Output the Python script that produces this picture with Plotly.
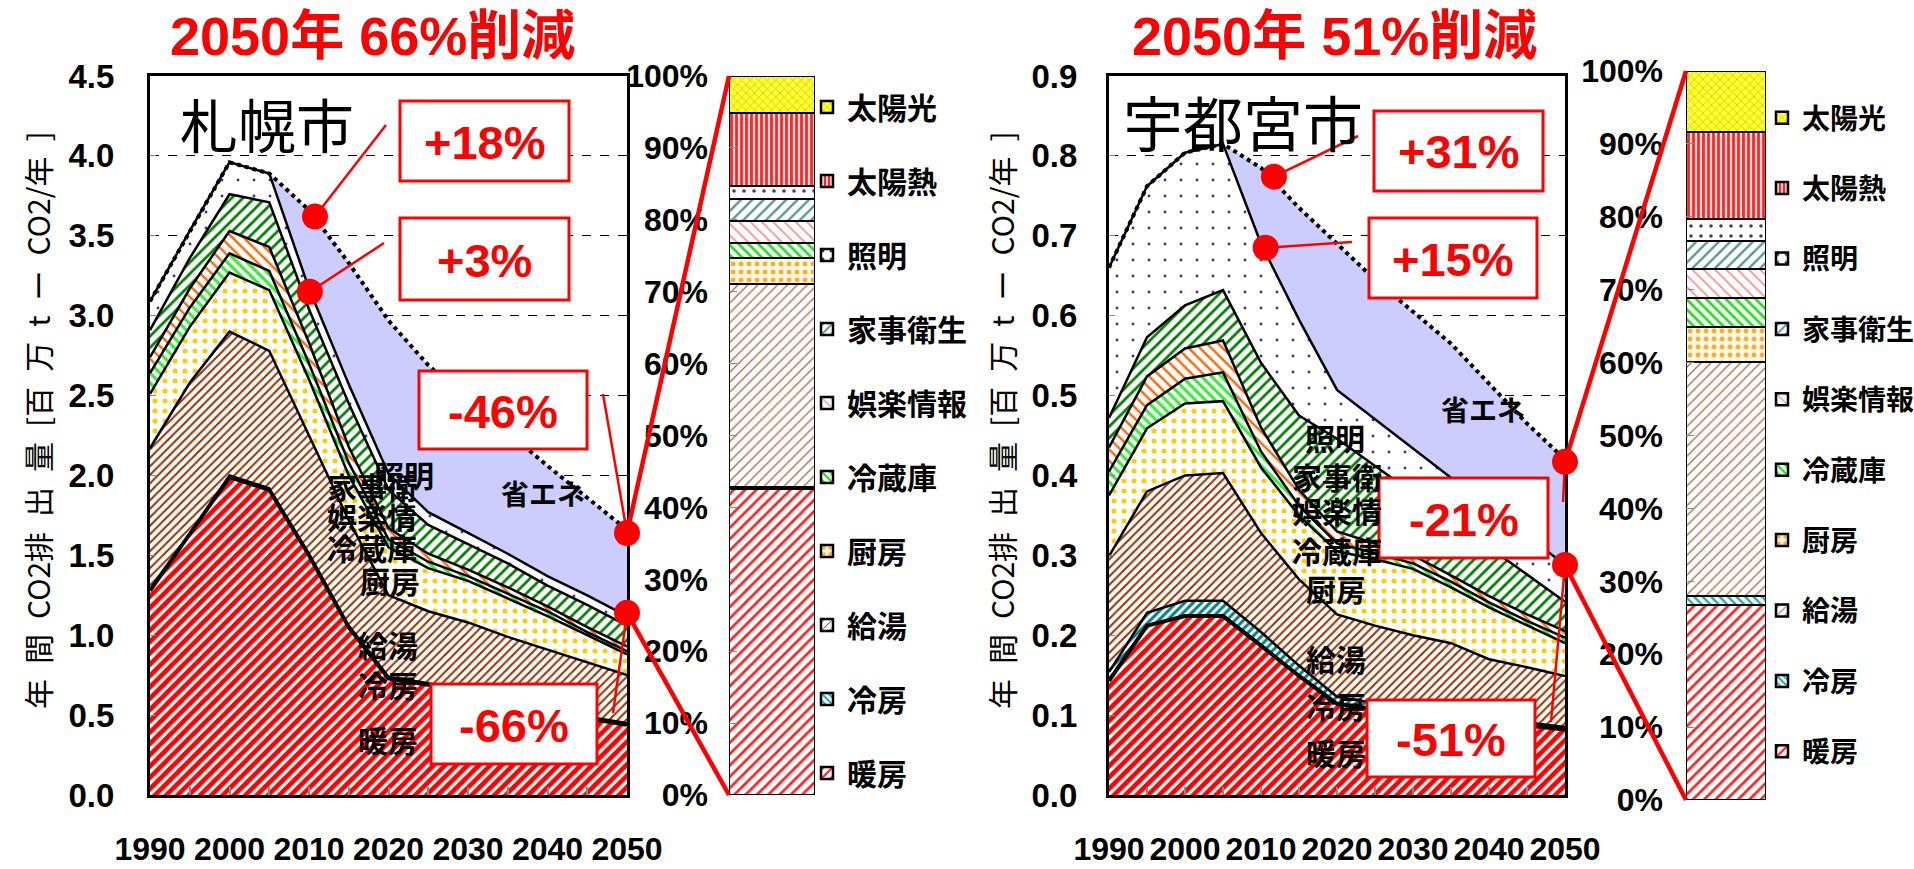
import plotly.graph_objects as go

W, H = 1914, 869


def px(x):
    return x / W


def py(y):
    return 1 - y / H


# ---------------- data ----------------
years = [1990, 1995, 2000, 2005, 2010, 2015, 2020, 2025, 2030, 2035, 2040, 2045, 2050]
year_ticks = [1990, 2000, 2010, 2020, 2030, 2040, 2050]
year_minor = [1995, 2005, 2015, 2025, 2035, 2045]

categories = ["暖房", "冷房", "給湯", "厨房", "冷蔵庫", "娯楽情報", "家事衛生", "照明"]
bar_categories = ["暖房", "冷房", "給湯", "厨房", "冷蔵庫", "娯楽情報", "家事衛生", "照明", "太陽熱", "太陽光"]

# Sapporo  [million t-CO2 / year]
sap_heating = [1.28, 1.63, 1.99, 1.91, 1.50, 1.05, 0.73, 0.69, 0.64, 0.58, 0.53, 0.48, 0.44]
sap_cooling = [0.01, 0.01, 0.01, 0.01, 0.01, 0.01, 0.01, 0.01, 0.01, 0.01, 0.01, 0.01, 0.01]
sap_hotwater = [0.88, 0.94, 0.90, 0.86, 0.74, 0.66, 0.51, 0.45, 0.43, 0.40, 0.37, 0.34, 0.30]
sap_kitchen = [0.34, 0.35, 0.37, 0.38, 0.35, 0.28, 0.30, 0.27, 0.26, 0.24, 0.21, 0.17, 0.13]
sap_fridge = [0.13, 0.12, 0.12, 0.12, 0.10, 0.08, 0.05, 0.04, 0.03, 0.03, 0.03, 0.02, 0.02]
sap_entertain = [0.10, 0.12, 0.14, 0.15, 0.13, 0.10, 0.07, 0.05, 0.04, 0.04, 0.03, 0.03, 0.03]
sap_housework = [0.17, 0.19, 0.23, 0.28, 0.21, 0.27, 0.24, 0.18, 0.16, 0.15, 0.13, 0.14, 0.13]
sap_lighting = [0.18, 0.17, 0.20, 0.18, 0.13, 0.12, 0.10, 0.08, 0.07, 0.06, 0.06, 0.06, 0.06]
sap_bau = [3.09, 3.53, 3.96, 3.89, 3.66, 3.33, 2.97, 2.69, 2.47, 2.27, 2.06, 1.86, 1.66]

# Utsunomiya  [million t-CO2 / year]
utsu_heating = [0.143, 0.212, 0.224, 0.224, 0.187, 0.149, 0.114, 0.107, 0.102, 0.097, 0.092, 0.087, 0.082]
utsu_cooling = [0.011, 0.016, 0.019, 0.019, 0.017, 0.013, 0.009, 0.008, 0.007, 0.006, 0.005, 0.004, 0.003]
utsu_hotwater = [0.145, 0.152, 0.157, 0.160, 0.124, 0.108, 0.103, 0.097, 0.091, 0.087, 0.073, 0.069, 0.064]
utsu_kitchen = [0.076, 0.079, 0.090, 0.090, 0.082, 0.080, 0.079, 0.083, 0.083, 0.070, 0.065, 0.052, 0.041]
utsu_fridge = [0.030, 0.029, 0.031, 0.036, 0.020, 0.012, 0.010, 0.008, 0.007, 0.007, 0.006, 0.006, 0.007]
utsu_entertain = [0.030, 0.036, 0.038, 0.040, 0.030, 0.020, 0.015, 0.012, 0.010, 0.008, 0.008, 0.008, 0.008]
utsu_housework = [0.037, 0.049, 0.054, 0.063, 0.081, 0.093, 0.116, 0.097, 0.078, 0.069, 0.061, 0.050, 0.037]
utsu_lighting = [0.188, 0.189, 0.191, 0.183, 0.149, 0.120, 0.061, 0.058, 0.056, 0.053, 0.051, 0.048, 0.046]
utsu_bau = [0.660, 0.762, 0.804, 0.815, 0.785, 0.735, 0.690, 0.645, 0.605, 0.565, 0.515, 0.465, 0.420]

# 2050 breakdown bars [%]
sap_bar_pct = [42.6, 0.3, 28.2, 3.6, 2.1, 3.1, 3.0, 1.8, 10.2, 5.1]
utsu_bar_pct = [26.8, 1.2, 32.1, 4.8, 4.0, 3.9, 3.9, 3.0, 11.9, 8.4]
pct_ticks = [0, 10, 20, 30, 40, 50, 60, 70, 80, 90, 100]
pct_labels = ["0%", "10%", "20%", "30%", "40%", "50%", "60%", "70%", "80%", "90%", "100%"]

sap_ticks = [0.0, 0.5, 1.0, 1.5, 2.0, 2.5, 3.0, 3.5, 4.0, 4.5]
utsu_ticks = [0.0, 0.1, 0.2, 0.3, 0.4, 0.5, 0.6, 0.7, 0.8, 0.9]

# reduction markers (year, value) and their labels
sap_marks = [(2010.75, 3.62), (2010.1, 3.15), (2050, 1.64), (2050, 1.14)]
sap_mark_labels = ["+18%", "+3%", "-46%", "-66%"]
utsu_marks = [(2011.7, 0.774), (2010.6, 0.685), (2050, 0.417), (2050, 0.288)]
utsu_mark_labels = ["+31%", "+15%", "-21%", "-51%"]

sap_title = "2050年 66%削減"
utsu_title = "2050年 51%削減"
ytitle = "年\u2002間\u2002CO2排\u2002出\u2002量\u2002[百\u2002万\u2002t\u2002ー\u2002CO2/年\u2002]"

sap_layers = [sap_heating, sap_cooling, sap_hotwater, sap_kitchen, sap_fridge,
              sap_entertain, sap_housework, sap_lighting]
utsu_layers = [utsu_heating, utsu_cooling, utsu_hotwater, utsu_kitchen, utsu_fridge,
               utsu_entertain, utsu_housework, utsu_lighting]

# ---------------- layout geometry (pixels) ----------------
L_X, L_Y = (150, 627), (76, 795)
LB_X, LB_Y = (729, 815), (76, 795)
R_X, R_Y = (1109, 1565), (76, 795)
RB_X, RB_Y = (1686, 1766), (71, 800)


def dom_x(a):
    return [px(a[0]), px(a[1])]


def dom_y(a):
    return [py(a[1]), py(a[0])]


def to_px(year, val, xd, yd, vmax):
    x = xd[0] + (year - 1990) / 60 * (xd[1] - xd[0])
    y = yd[1] - val / vmax * (yd[1] - yd[0])
    return x, y


area_style = [
    dict(shape="/", fgcolor="#FF0000", size=8, solidity=0.6),
    dict(shape="/", fgcolor="#008080", size=6, solidity=0.5),
    dict(shape="/", fgcolor="#993300", size=6, solidity=0.35),
    dict(shape=".", fgcolor="#FFCC00", size=10, solidity=0.2),
    dict(shape="\\", fgcolor="#33EE33", size=7, solidity=0.45),
    dict(shape="\\", fgcolor="#FF6600", size=8, solidity=0.3),
    dict(shape="/", fgcolor="#008000", size=8, solidity=0.35),
    dict(shape=".", fgcolor="#3333AA", size=16, solidity=0.025),
]
bar_style = [
    dict(shape="/", fgcolor="#FF2222", bgcolor="white", size=8, solidity=0.35),
    dict(shape="\\", fgcolor="#22AAAA", bgcolor="white", size=6, solidity=0.4),
    dict(shape="/", fgcolor="#B07050", bgcolor="white", size=7, solidity=0.2),
    dict(shape=".", fgcolor="#FFAA33", bgcolor="#FFF8E0", size=8, solidity=0.3),
    dict(shape="\\", fgcolor="#22DD22", bgcolor="white", size=7, solidity=0.4),
    dict(shape="\\", fgcolor="#FF8888", bgcolor="white", size=8, solidity=0.2),
    dict(shape="/", fgcolor="#55998A", bgcolor="white", size=8, solidity=0.3),
    dict(shape=".", fgcolor="#444444", bgcolor="white", size=10, solidity=0.1),
    dict(shape="|", fgcolor="#FF2222", bgcolor="#FFE0E0", size=5, solidity=0.55),
    dict(shape="x", fgcolor="#BBBB00", bgcolor="#FFFF33", size=6, solidity=0.2),
]

fig = go.Figure()

panels = [
    (sap_layers, sap_bau, "x", "y", "sap"),
    (utsu_layers, utsu_bau, "x3", "y3", "utsu"),
]
for layers, bau, xa, ya, grp in panels:
    # 省エネ area: BAU filled to zero, the stacked uses are drawn on top
    fig.add_trace(go.Scatter(
        x=years, y=bau, name="省エネ", mode="lines", fill="tozeroy", fillcolor="#CCCCFF",
        line=dict(color="rgba(0,0,0,0)", width=0),
        xaxis=xa, yaxis=ya, showlegend=False, hoverinfo="skip"))
    for i, (name, vals) in enumerate(zip(categories, layers)):
        st = area_style[i]
        fig.add_trace(go.Scatter(
            x=years, y=vals, name=name, stackgroup=grp, mode="lines",
            line=dict(color="black", width=4 if i == 0 else 2.5),
            fillcolor="white",
            fillpattern=dict(shape=st["shape"], fgcolor=st["fgcolor"], bgcolor="white",
                             size=st["size"], solidity=st["solidity"], fillmode="replace"),
            xaxis=xa, yaxis=ya, showlegend=False, hoverinfo="skip"))
    fig.add_trace(go.Scatter(
        x=years, y=bau, name="BAU", mode="lines",
        line=dict(color="black", width=4, dash="dot"),
        xaxis=xa, yaxis=ya, showlegend=False, hoverinfo="skip"))

for pct, xa, ya, leg, tag in [(sap_bar_pct, "x2", "y2", "legend", "s"),
                               (utsu_bar_pct, "x4", "y4", "legend2", "u")]:
    for i, name in enumerate(bar_categories):
        st = bar_style[i]
        fig.add_trace(go.Bar(
            x=[0], y=[pct[i]], width=1, name=name,
            marker=dict(color=st["bgcolor"],
                        pattern=dict(shape=st["shape"], fgcolor=st["fgcolor"], bgcolor=st["bgcolor"],
                                     size=st["size"], solidity=st["solidity"], fillmode="replace"),
                        line=dict(color="black", width=2.5)),
            xaxis=xa, yaxis=ya, legend=leg, legendgroup=f"{tag}{i}", legendrank=100 - i,
            showlegend=True, hoverinfo="skip"))

num_family = "Liberation Sans Narrow, Liberation Sans, Arial"
ytick_font = dict(family=num_family, size=33, color="black", weight="bold")
xtick_font = dict(family=num_family, size=32, color="black", weight="bold")

area_x = dict(range=[1990, 2050], tickvals=year_ticks, ticktext=[str(v) for v in year_ticks],
              tickangle=0, automargin=False,
              ticks="inside", ticklen=8, tickcolor="#888888", tickwidth=1.5,
              minor=dict(tickvals=year_minor, ticks="inside", ticklen=8, tickcolor="#888888", tickwidth=1.5),
              showline=True, linewidth=3, linecolor="black", mirror=True, showgrid=False,
              zeroline=False, tickfont=xtick_font, ticklabelstandoff=24, fixedrange=True)

legend_font = dict(family="Noto Sans CJK JP", size=30, color="black", weight="bold")

fig.update_layout(
    width=W, height=H, margin=dict(l=0, r=0, t=0, b=0, autoexpand=False),
    paper_bgcolor="white", plot_bgcolor="white",
    barmode="stack", bargap=0,
    xaxis=dict(domain=dom_x(L_X), anchor="y", **area_x),
    yaxis=dict(domain=dom_y(L_Y), anchor="x", range=[0, 4.5], tickvals=sap_ticks,
               ticktext=[f"{v:.1f}" for v in sap_ticks], ticks="inside", ticklen=6, automargin=False,
               tickcolor="#888888", showline=True, linewidth=3, linecolor="black", mirror=True,
               showgrid=True, gridcolor="black", griddash="dash", gridwidth=1, zeroline=False,
               tickfont=ytick_font, ticklabelstandoff=26),
    xaxis3=dict(domain=dom_x(R_X), anchor="y3", **area_x),
    yaxis3=dict(domain=dom_y(R_Y), anchor="x3", range=[0, 0.9], tickvals=utsu_ticks,
                ticktext=[f"{v:.1f}" for v in utsu_ticks], ticks="inside", ticklen=6, automargin=False,
                tickcolor="#888888", showline=True, linewidth=3, linecolor="black", mirror=True,
                showgrid=True, gridcolor="black", griddash="dash", gridwidth=1, zeroline=False,
                tickfont=ytick_font, ticklabelstandoff=22),
    xaxis2=dict(domain=dom_x(LB_X), anchor="y2", range=[-0.5, 0.5], visible=False, automargin=False),
    yaxis2=dict(domain=dom_y(LB_Y), anchor="x2", range=[0, 100], tickvals=pct_ticks, ticktext=pct_labels,
                ticks="inside", ticklen=8, tickcolor="#888888", showline=False, showgrid=False,
                automargin=False, zeroline=False, tickfont=dict(ytick_font, size=32), ticklabelstandoff=20),
    xaxis4=dict(domain=dom_x(RB_X), anchor="y4", range=[-0.5, 0.5], visible=False, automargin=False),
    yaxis4=dict(domain=dom_y(RB_Y), anchor="x4", range=[0, 100], tickvals=pct_ticks, ticktext=pct_labels,
                ticks="inside", ticklen=8, tickcolor="#888888", showline=False, showgrid=False,
                automargin=False, zeroline=False, tickfont=dict(ytick_font, size=32), ticklabelstandoff=22),
    legend=dict(x=px(807), y=py(81), xanchor="left", yanchor="top", traceorder="grouped",
                tracegroupgap=32, bgcolor="rgba(0,0,0,0)", font=legend_font),
    legend2=dict(x=px(1762), y=py(93), xanchor="left", yanchor="top", traceorder="grouped",
                 tracegroupgap=31, bgcolor="rgba(0,0,0,0)", font=dict(legend_font, size=28)),
)

shapes = []
annotations = []

cjk = "Noto Sans CJK JP"
red_font = dict(family="Liberation Sans, Arial, " + cjk, size=54, color="#FF0000", weight="bold")

# titles
annotations.append(dict(x=px(372), y=py(36), text=sap_title, font=red_font))
annotations.append(dict(x=px(1334), y=py(36), text=utsu_title, font=red_font))
# city names
annotations.append(dict(x=px(267), y=py(123), text="札幌市", font=dict(family=cjk, size=58, color="black")))
annotations.append(dict(x=px(1243), y=py(121), text="宇都宮市", font=dict(family=cjk, size=60, color="black")))
# axis titles
for xpos in (37, 1001):
    annotations.append(dict(x=px(xpos), y=py(420), text=ytitle, textangle=-90,
                            font=dict(family=cjk, size=30, color="black")))
# 省エネ
annotations.append(dict(x=px(543), y=py(493), text="省エネ", font=dict(family=cjk, size=28, color="black", weight="bold")))
annotations.append(dict(x=px(1483), y=py(409), text="省エネ", font=dict(family=cjk, size=28, color="black", weight="bold")))

# in-chart category labels
lab_font = dict(family=cjk, size=30, color="black", weight="bold")
left_labels = [("家事衛", 372, 486), ("照明", 404, 474), ("娯楽情", 372, 516), ("冷蔵庫", 372, 547),
               ("厨房", 390, 580), ("給湯", 388, 644), ("冷房", 388, 684), ("暖房", 388, 739)]
right_labels = [("照明", 1335, 437), ("家事衛", 1337, 476), ("娯楽情", 1337, 510), ("冷蔵庫", 1337, 550),
                ("厨房", 1336, 588), ("給湯", 1336, 658), ("冷房", 1336, 705), ("暖房", 1336, 752)]
for t, x, y in left_labels + right_labels:
    annotations.append(dict(x=px(x), y=py(y), text=t, font=lab_font))

# red boxes
box_font = dict(family="Liberation Sans, Arial", size=47, color="#FF0000", weight="bold")
sap_boxes = [(400, 101, 569, 181), (400, 218, 569, 300), (419, 371, 587, 449), (431, 684, 597, 764)]
utsu_boxes = [(1374, 111, 1543, 191), (1369, 218, 1537, 298), (1379, 478, 1548, 558), (1367, 700, 1535, 777)]
# leader line start points (box side) for each marker
sap_lead = [(386, 125), (384, 243), (603, 394), (613, 713)]
utsu_lead = [(1358, 136), (1352, 242), (1563, 502), (1551, 722)]

for marks, labels, boxes, leads, xd, yd, vmax, bx, by in [
        (sap_marks, sap_mark_labels, sap_boxes, sap_lead, L_X, L_Y, 4.5, LB_X, LB_Y),
        (utsu_marks, utsu_mark_labels, utsu_boxes, utsu_lead, R_X, R_Y, 0.9, RB_X, RB_Y)]:
    centers = [to_px(yr, v, xd, yd, vmax) for yr, v in marks]
    for (cx, cy), (lx, ly) in zip(centers, leads):
        shapes.append(dict(type="line", xref="paper", yref="paper", x0=px(lx), y0=py(ly),
                           x1=px(cx), y1=py(cy), line=dict(color="#FF0000", width=2.5)))
    (ux, uy), (lx2, ly2) = centers[2], centers[3]
    shapes.append(dict(type="line", xref="paper", yref="paper", x0=px(ux), y0=py(uy),
                       x1=px(bx[0]), y1=py(by[0]), line=dict(color="#FF0000", width=4.5)))
    shapes.append(dict(type="line", xref="paper", yref="paper", x0=px(lx2), y0=py(ly2),
                       x1=px(bx[0]), y1=py(by[1]), line=dict(color="#FF0000", width=4.5)))
    for (x0, y0, x1, y1), lab in zip(boxes, labels):
        shapes.append(dict(type="rect", xref="paper", yref="paper", x0=px(x0), y0=py(y1),
                           x1=px(x1), y1=py(y0), fillcolor="white",
                           line=dict(color="#FF0000", width=3)))
        annotations.append(dict(x=px((x0 + x1) / 2), y=py((y0 + y1) / 2 + 1), text=lab, font=box_font))
    r = 13
    for cx, cy in centers:
        shapes.append(dict(type="circle", xref="paper", yref="paper", x0=px(cx - r), x1=px(cx + r),
                           y0=py(cy + r), y1=py(cy - r), fillcolor="#FF0000", line=dict(width=0)))

for a in annotations:
    a.setdefault("xref", "paper")
    a.setdefault("yref", "paper")
    a.setdefault("showarrow", False)
    a.setdefault("xanchor", "center")
    a.setdefault("yanchor", "middle")

fig.update_layout(shapes=shapes, annotations=annotations)
fig.write_html("out.html")
